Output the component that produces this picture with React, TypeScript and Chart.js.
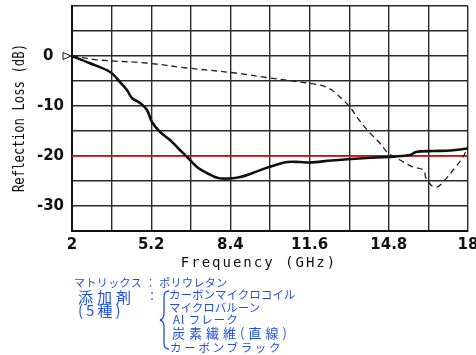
import React, { useEffect, useRef } from "react";
import { Chart, registerables } from "chart.js";
Chart.register(...registerables);

const solidFreq = [2, 2.7, 3.54, 3.94, 4.22, 4.42, 4.75, 5.03, 5.23, 5.56, 5.96, 6.28, 6.65, 7.05, 7.45, 7.9, 8.38, 8.8, 9.3, 9.96, 10.7, 11.2, 11.6, 12.5, 13.9, 14.77, 15.65, 15.9, 16.6, 17.3, 18];
const solidLoss = [0, -1.4, -3.2, -5.2, -6.8, -8.4, -9.4, -10.8, -13.2, -15.2, -16.8, -18.4, -20.2, -22.2, -23.4, -24.4, -24.5, -24.2, -23.4, -22.2, -21.2, -21.2, -21.3, -20.9, -20.4, -20.2, -19.8, -19.2, -19.0, -18.9, -18.5];

const dashFreq = [2, 3.1, 5.0, 6.65, 8.6, 10.0, 11.2, 12.0, 12.5, 12.95, 13.23, 13.6, 14.0, 14.4, 14.77, 15.25, 15.78, 16.2, 16.3, 16.55, 16.75, 17.0, 17.4, 17.8, 18];
const dashLoss = [0, -0.8, -1.4, -2.4, -3.4, -4.4, -5.2, -5.8, -6.8, -8.8, -10.2, -12.8, -15.2, -17.2, -19.4, -20.8, -22.2, -22.8, -24.4, -26.0, -26.2, -25.2, -22.8, -20.2, -18.0];

const thresholdFreq = [2, 18];
const thresholdLoss = [-20, -20];

const xGrid = [2, 3.6, 5.2, 6.8, 8.4, 10, 11.6, 13.2, 14.8, 16.4, 18];
const xLabels = ["2", "", "5.2", "", "8.4", "", "11.6", "", "14.8", "", "18"];
const yGrid = [10, 5, 0, -5, -10, -15, -20, -25, -30, -35];
const yLabels = ["", "", "0  ", "", "-10", "", "-20", "", "-30", ""];

const xTitle = "Frequency (GHz)";
const yTitle = "Reflection Loss (dB)";

const noteLines = [
  { text: "マトリックス ： ポリウレタン", x: 74, y: 277, size: 11, ls: 0.4 },
  { text: "添加剤", x: 78, y: 289, size: 15, ls: 4 },
  { text: "：", x: 146, y: 290, size: 12, ls: 0 },
  { text: "(5種)", x: 78, y: 302, size: 15, ls: 3 },
  { text: "カーボンマイクロコイル", x: 169, y: 289, size: 11.5, ls: 0 },
  { text: "マイクロバルーン", x: 169, y: 302, size: 11.5, ls: 0 },
  { text: "Al フレーク", x: 173, y: 314, size: 11.5, ls: 1 },
  { text: "炭素繊維(直線)", x: 172, y: 326, size: 13, ls: 4 },
  { text: "カーボンブラック", x: 170, y: 342, size: 11.5, ls: 2.7 },
];

const pts = (xs: number[], ys: number[]) => xs.map((x, i) => ({ x, y: ys[i] }));

const decorPlugin = {
  id: "decor",
  afterDraw(chart: any) {
    const { ctx, chartArea, scales } = chart;
    const y0 = scales.y.getPixelForValue(0);
    ctx.save();
    ctx.strokeStyle = "#111";
    ctx.lineWidth = 1;
    ctx.beginPath();
    ctx.moveTo(chartArea.left - 9, y0 - 3.5);
    ctx.lineTo(chartArea.left - 9, y0 + 3.5);
    ctx.lineTo(chartArea.left - 1, y0);
    ctx.closePath();
    ctx.stroke();
    ctx.fillStyle = "#111";
    ctx.textAlign = "center";
    ctx.textBaseline = "middle";
    (ctx as any).letterSpacing = "2px";
    ctx.font = "14px 'DejaVu Sans Mono'";
    ctx.fillText(xTitle, (chartArea.left + chartArea.right) / 2 - 11, 263);
    (ctx as any).letterSpacing = "0px";
    ctx.font = "15px 'DejaVu Sans Mono'";
    ctx.translate(20, 118);
    ctx.rotate(-Math.PI / 2);
    ctx.scale(0.82, 1);
    ctx.fillText(yTitle, 0, 0);
    ctx.restore();
  },
};

export default function App() {
  const ref = useRef<HTMLCanvasElement>(null);
  useEffect(() => {
    if (!ref.current) return;
    const chart = new Chart(ref.current, {
      type: "line",
      data: {
        datasets: [
          {
            data: pts(solidFreq, solidLoss),
            borderColor: "#111",
            borderWidth: 2.6,
            pointRadius: 0,
            tension: 0.35,
          },
          {
            data: pts(dashFreq, dashLoss),
            borderColor: "#222",
            borderWidth: 1.3,
            borderDash: [6, 4],
            pointRadius: 0,
            tension: 0.35,
          },
          {
            data: pts(thresholdFreq, thresholdLoss),
            borderColor: "#e41414",
            borderWidth: 1.5,
            pointRadius: 0,
          },
        ],
      },
      options: {
        responsive: false,
        animation: false,
        layout: { padding: { left: 0, top: 6, right: 8, bottom: 0 } },
        plugins: { legend: { display: false }, tooltip: { enabled: false } },
        scales: {
          x: {
            type: "linear",
            min: 2,
            max: 18,
            afterBuildTicks: (s: any) => {
              s.ticks = xGrid.map((v) => ({ value: v }));
            },
            afterFit: (s: any) => {
              s.height = 124;
              s.paddingLeft = 0;
              s.paddingRight = 0;
            },
            ticks: {
              autoSkip: false,
              maxRotation: 0,
              padding: 5,
              color: "#111",
              font: { family: "'DejaVu Sans'", size: 15, weight: "bold" },
              callback: (_v: any, i: number) => xLabels[i],
            },
            grid: { color: "#2a2a2a", lineWidth: 1.4, drawTicks: false },
            border: { color: "#111", width: 2 },
          },
          y: {
            type: "linear",
            min: -35,
            max: 10,
            afterBuildTicks: (s: any) => {
              s.ticks = yGrid.map((v) => ({ value: v }));
            },
            afterFit: (s: any) => {
              s.width = 72;
              s.paddingTop = 0;
              s.paddingBottom = 0;
            },
            ticks: {
              autoSkip: false,
              padding: 8,
              color: "#111",
              font: { family: "'DejaVu Sans'", size: 15, weight: "bold" },
              callback: (_v: any, i: number) => yLabels[i],
            },
            grid: { color: "#2a2a2a", lineWidth: 1.4, drawTicks: false },
            border: { color: "#111", width: 2 },
          },
        },
      },
      plugins: [decorPlugin],
    } as any);
    return () => chart.destroy();
  }, []);

  return (
    <div style={{ position: "absolute", left: 0, top: 0, width: 476, height: 355, background: "#fff" }}>
      <canvas ref={ref} width={476} height={355} style={{ position: "absolute", left: 0, top: 0 }} />
      {noteLines.map((n, i) => (
        <div
          key={i}
          style={{
            position: "absolute",
            left: n.x,
            top: n.y,
            fontSize: n.size,
            letterSpacing: n.ls,
            lineHeight: 1,
            whiteSpace: "nowrap",
            color: "#1f4fe0",
            fontFamily: "'Noto Sans CJK JP', sans-serif",
          }}
        >
          {n.text}
        </div>
      ))}
      <svg width={12} height={64} style={{ position: "absolute", left: 159, top: 289 }}>
        <path d="M10 2 Q5 2 5 8 L5 24 Q5 30 1 31 Q5 32 5 38 L5 54 Q5 60 10 60" fill="none" stroke="#1f4fe0" strokeWidth={1.3} />
      </svg>
    </div>
  );
}
